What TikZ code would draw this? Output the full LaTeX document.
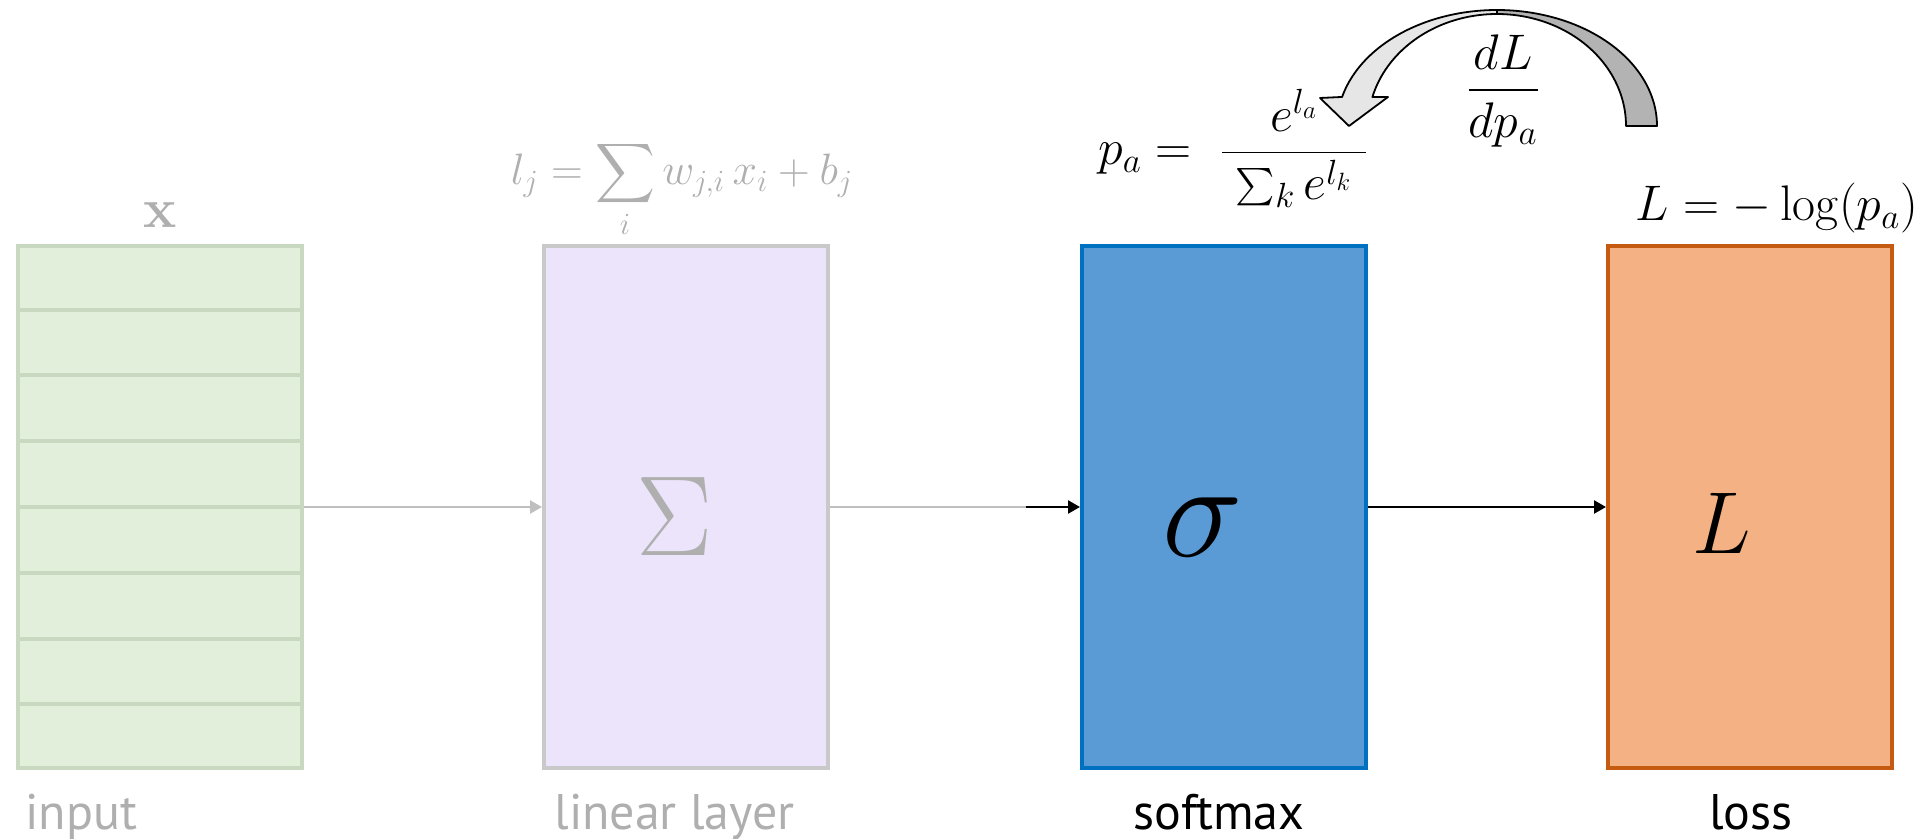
\RequirePackage{fix-cm}
\documentclass[tikz,border=0pt]{standalone}
\usepackage{exscale}
\usepackage[no-math]{fontspec}
\setmainfont{PT Sans}
\usetikzlibrary{arrows.meta,calc}
\definecolor{infill}{HTML}{E2EFDA}
\definecolor{indraw}{HTML}{C9D8C0}
\definecolor{linfill}{HTML}{EBE4FB}
\definecolor{lindraw}{HTML}{C9C9C9}
\definecolor{softfill}{HTML}{5B9BD5}
\definecolor{softdraw}{HTML}{0070C0}
\definecolor{lossfill}{HTML}{F4B183}
\definecolor{lossdraw}{HTML}{C55A11}
\definecolor{txtgray}{HTML}{AFAFAF}
\definecolor{linegray}{HTML}{BFBFBF}
\definecolor{cvlight}{HTML}{E6E6E6}
\definecolor{cvdark}{HTML}{B3B3B3}
\newcommand{\smallsum}{\mathop{\vcenter{\hbox{\scalebox{0.75}{$\textstyle\sum$}}}}\nolimits}
\begin{document}
\begin{tikzpicture}[x=0.5pt,y=-0.5pt,
  box/.style={draw, line width=2pt, minimum width=142pt, minimum height=261pt, inner sep=0pt},
  mathtxt/.style={font=\fontsize{25}{30}\selectfont, inner sep=0pt, anchor=base},
  lbl/.style={font=\fontsize{25}{29}\selectfont, anchor=base, inner sep=0pt},
  conn/.style={line width=1.2pt, -{Triangle[length=6pt,width=6.5pt]}},
  cvline/.style={draw=black, line width=0.9pt, line join=round}]
\useasboundingbox (0,0) rectangle (1931,839);

% boxes
\node[box, draw=indraw, fill=infill] (in) at (160,507) {};
\foreach \k in {1,...,7}
  \draw[indraw, line width=2pt] ($(in.north west)!\k/8!(in.south west)$) -- ($(in.north east)!\k/8!(in.south east)$);
\node[box, draw=lindraw, fill=linfill] (lin) at (686,507) {};
\node[box, draw=softdraw, fill=softfill] (soft) at (1224,507) {};
\node[box, draw=lossdraw, fill=lossfill] (loss) at (1750,507) {};

% symbols in boxes
\node[txtgray, font=\fontsize{57}{60}\selectfont, inner sep=0pt] (sig) at (675,517) {$\Sigma$};
\node[font=\fontsize{68}{72}\selectfont, inner sep=0pt] (sm) at (1203,527) {$\sigma$};
\node[font=\fontsize{44}{48}\selectfont, inner sep=0pt] (ll) at (1722,523) {$L$};

% connectors
\coordinate (mid) at (1026,507);
\draw[conn, linegray] (in.east) -- (lin.west);
\draw[linegray, line width=1.2pt] (lin.east) -- (mid);
\draw[conn, black] (mid) -- (soft.west);
\draw[conn, black] (soft.east) -- (loss.west);

% labels
\node[lbl, txtgray, anchor=base west] (tin) at (25,829) {input};
\node[lbl, txtgray, anchor=base west] (tlin) at (554,829) {linear layer};
\node[lbl] (tsoft) at (1219,829) {softmax};
\node[lbl] (tloss) at (1751,829) {loss};

% formulas
\node[txtgray, font=\fontsize{28}{32}\selectfont, inner sep=0pt] (tx) at (160,215) {$\mathbf{x}$};
\node[mathtxt, txtgray, font=\fontsize{22}{26}\selectfont] (flin) at (682,185) {$\displaystyle l_j = \sum_i w_{j,i}\, x_i + b_j$};
\node[mathtxt, anchor=base west] (fsoft) at (1098,165) {$\displaystyle p_a =\; \frac{\;e^{l_a}\;}{\;\smallsum_k e^{l_k}\;}$};
\node[mathtxt] (fgrad) at (1503,103) {$\displaystyle \frac{dL}{dp_a}$};
\node[mathtxt] (floss) at (1777,221) {$L = -\log(p_a)$};

% curved block arrow
\filldraw[cvline, fill=cvdark]
  plot[domain=90:0, samples=50] ({1497+160*cos(\x)}, {126-116*sin(\x)})
  -- (1626,126)
  -- plot[domain=0:90, samples=50] ({1497+129*cos(\x)}, {126-112*sin(\x)}) -- cycle;
\filldraw[cvline, fill=cvlight]
  plot[domain=90:165.5, samples=50] ({1497+160*cos(\x)}, {126-116*sin(\x)})
  -- (1320,98) -- (1349,126) -- (1388,97)
  -- plot[domain=165:90, samples=50] ({1497+129*cos(\x)}, {126-112*sin(\x)}) -- cycle;
\end{tikzpicture}
\end{document}
